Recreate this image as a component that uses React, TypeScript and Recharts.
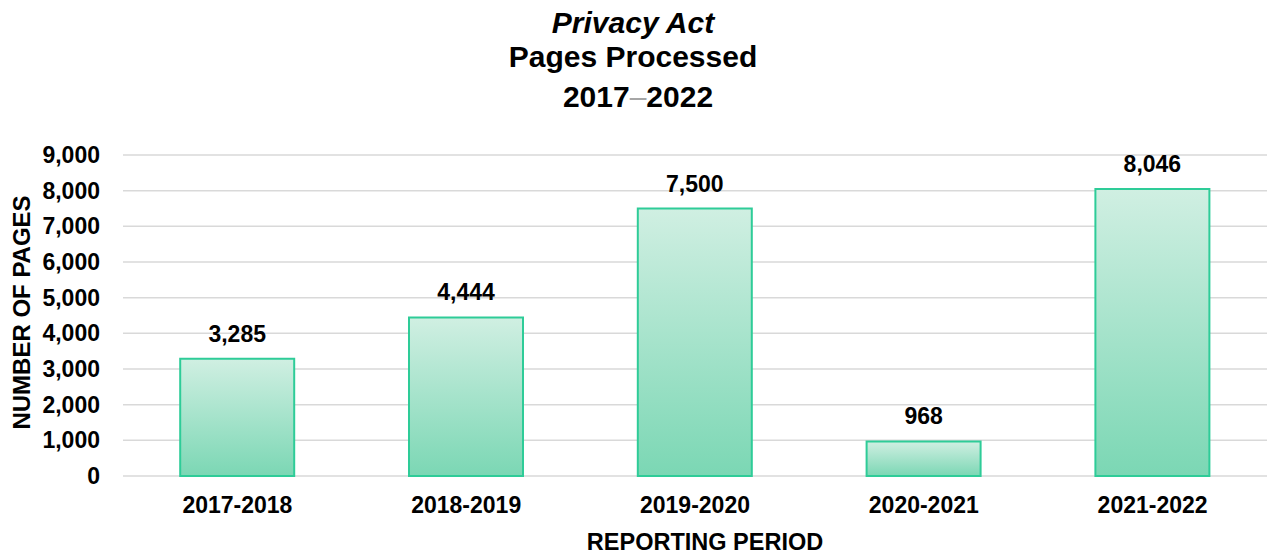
import React from 'react';
import { BarChart, Bar, XAxis, YAxis, CartesianGrid, LabelList, Label } from 'recharts';

const periods = ['2017-2018', '2018-2019', '2019-2020', '2020-2021', '2021-2022'];
const pages = [3285, 4444, 7500, 968, 8046];
const yTicks = [0, 1000, 2000, 3000, 4000, 5000, 6000, 7000, 8000, 9000];

const FONT = '"Liberation Sans", Arial, sans-serif';

const data = periods.map((period, i) => ({ period, pages: pages[i] }));

const fmt = (v: number) => v.toLocaleString('en-US');

const YTitle = (props: any) => {
  const { viewBox } = props;
  const x = viewBox.x + 30;
  const y = viewBox.y + viewBox.height / 2 - 3;
  return (
    <text
      x={x}
      y={y}
      transform={`rotate(-90, ${x}, ${y})`}
      textAnchor="middle"
      fontFamily={FONT}
      fontWeight="bold"
      fontSize={24}
      fill="#000"
    >
      NUMBER OF PAGES
    </text>
  );
};

const XTitle = (props: any) => {
  const { viewBox } = props;
  return (
    <text
      x={viewBox.x + viewBox.width / 2 + 10}
      y={viewBox.y + 74}
      textAnchor="middle"
      fontFamily={FONT}
      fontWeight="bold"
      fontSize={23.5}
      fill="#000"
    >
      REPORTING PERIOD
    </text>
  );
};

export default function App() {
  return (
    <div style={{ position: 'absolute', left: 0, top: 0, width: 1267, height: 554, background: '#fff' }}>
      <svg width={1267} height={130} style={{ position: 'absolute', left: 0, top: 0 }}>
        <text x={633} y={33} textAnchor="middle" fontFamily={FONT} fontSize={30} fontWeight="bold" fontStyle="italic">
          Privacy Act
        </text>
        <text x={633} y={67} textAnchor="middle" fontFamily={FONT} fontSize={30} fontWeight="bold">
          Pages Processed
        </text>
        <text x={638} y={107} textAnchor="middle" fontFamily={FONT} fontSize={30} fontWeight="bold">
          2017<tspan fill="#a6a6a6" fontWeight="normal">–</tspan>2022
        </text>
      </svg>
      <BarChart
        width={1267}
        height={554}
        data={data}
        margin={{ top: 155, right: 0, bottom: 0, left: 0 }}
        barCategoryGap="25%"
        style={{ position: 'absolute', left: 0, top: 0 }}
      >
        <defs>
          <linearGradient id="barFill" x1="0" y1="0" x2="0" y2="1">
            <stop offset="0%" stopColor="#d0efe2" />
            <stop offset="100%" stopColor="#7bd7b4" />
          </linearGradient>
        </defs>
        <CartesianGrid vertical={false} stroke="#d9d9d9" strokeWidth={1.5} />
        <XAxis
          dataKey="period"
          axisLine={false}
          tickLine={false}
          height={78}
          tickMargin={15}
          tick={{ fontFamily: FONT, fontSize: 23, fontWeight: 'bold', fill: '#000' }}
        >
          <Label content={<XTitle />} />
        </XAxis>
        <YAxis
          width={123}
          domain={[0, 9000]}
          ticks={yTicks}
          interval={0}
          axisLine={false}
          tickLine={false}
          tickMargin={17}
          tickFormatter={fmt}
          tick={{ fontFamily: FONT, fontSize: 23, fontWeight: 'bold', fill: '#000' }}
        >
          <Label content={<YTitle />} />
        </YAxis>
        <Bar dataKey="pages" fill="url(#barFill)" stroke="#2ecc98" strokeWidth={2} isAnimationActive={false}>
          <LabelList
            dataKey="pages"
            position="top"
            offset={17}
            formatter={(v: any) => fmt(Number(v))}
            style={{ fontFamily: FONT, fontSize: 23, fontWeight: 'bold', fill: '#000' }}
          />
        </Bar>
      </BarChart>
    </div>
  );
}
